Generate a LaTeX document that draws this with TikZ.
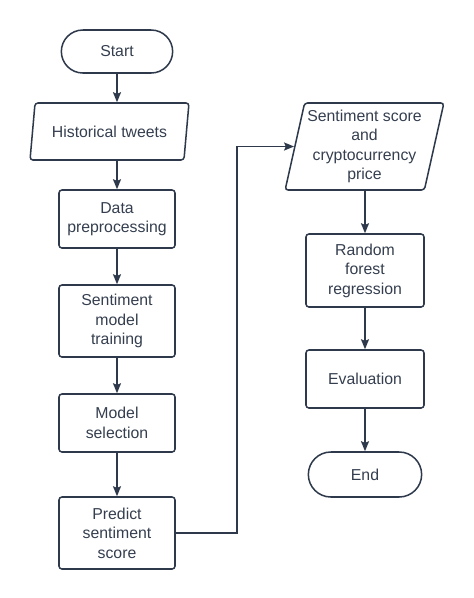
\documentclass[tikz,border=0pt]{standalone}
\usepackage{fontspec}
\setmainfont{Liberation Sans}
\usetikzlibrary{shapes.geometric,shapes.misc,arrows.meta}
\definecolor{lineslate}{RGB}{46,58,76}
\definecolor{textslate}{RGB}{52,62,78}

\tikzset{
  base/.style={draw=lineslate, line width=1.3pt, text=textslate, align=center,
    font=\fontsize{13.5}{16.6}\selectfont, inner sep=2pt},
  terminal/.style={base, rounded rectangle, minimum width=3.48cm, minimum height=1.29cm},
  process/.style={base, rectangle, rounded corners=2.5pt, minimum width=3.48cm},
  data/.style={base, trapezium, trapezium left angle=76, trapezium right angle=104,
    trapezium stretches=true, rounded corners=2.5pt, minimum width=4.77cm},
  flow/.style={draw=lineslate, line width=1.3pt, -{Stealth[length=3mm,width=2.4mm,inset=0.5mm]}}
}

\begin{document}
\begin{tikzpicture}[node distance=2.4cm]
\useasboundingbox (0,0) rectangle (14.22,-17.94);

% Left column
\node[terminal] (start) at (3.51,-1.545) {Start};
\node[data, below of=start, xshift=-0.225cm, minimum height=1.71cm] (tweets) {Historical tweets};
\node[process, below of=start, node distance=5.025cm, minimum height=1.74cm] (prep) {Data\\preprocessing};
\node[process, below of=prep, node distance=3.06cm, minimum height=2.16cm] (train) {Sentiment\\model\\training};
\node[process, below of=train, node distance=3.06cm, minimum height=1.74cm] (select) {Model\\selection};
\node[process, below of=select, node distance=3.3cm, minimum height=2.16cm] (predict) {Predict\\sentiment\\score};

% Right column
\node[data, right of=tweets, node distance=7.65cm, yshift=-0.45cm, minimum height=2.61cm] (scoreprice) {Sentiment score\\and\\cryptocurrency\\price};
\node[process, below of=scoreprice, node distance=3.72cm, xshift=0.015cm, minimum width=3.54cm, minimum height=2.19cm] (forest) {Random\\forest\\regression};
\node[process, below of=forest, node distance=3.255cm, minimum width=3.54cm, minimum height=1.74cm] (eval) {Evaluation};
\node[terminal, below of=eval, node distance=2.865cm, minimum width=3.54cm, minimum height=1.35cm] (end) {End};

% Arrows
\draw[flow] (start.south) -- (start.south |- tweets.north);
\draw[flow] (prep.north |- tweets.south) -- (prep.north);
\draw[flow] (prep) -- (train);
\draw[flow] (train) -- (select);
\draw[flow] (select) -- (predict);
\draw[flow] (predict.east) -- ++(1.83,0) |- (scoreprice.west);
\draw[flow] (forest.north |- scoreprice.south) -- (forest.north);
\draw[flow] (forest) -- (eval);
\draw[flow] (eval) -- (end);
\end{tikzpicture}
\end{document}
